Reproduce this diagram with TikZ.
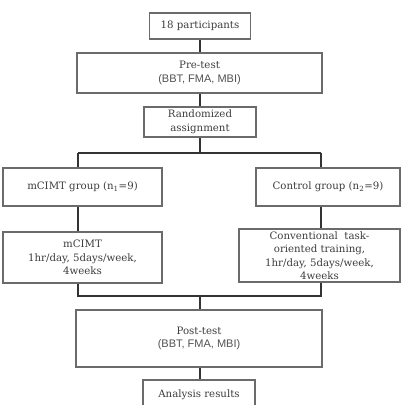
\documentclass[tikz,border=0pt]{standalone}
\usepackage{fontspec}
\setmainfont{DejaVu Serif}
\newfontfamily\lbsans{Liberation Sans}
\begin{document}
\begin{tikzpicture}[x=1pt,y=-1pt,
  box/.style={draw=black!58, line width=1.1pt, fill=white, inner sep=0pt, align=center,
    text=black!76, font=\fontsize{10.2}{13.5}\selectfont},
  conn/.style={draw=black!80, line width=1.8pt}]
\newcommand{\sanstxt}[1]{{\lbsans\fontsize{11}{14}\selectfont\color{black!68}#1}}
\useasboundingbox (0,0) rectangle (402,405);
\begin{scope}
\clip (0,0) rectangle (402,405);
\coordinate (jc) at (200,153);
\coordinate (jl) at (78,153);
\coordinate (jr) at (321,153);
\coordinate (kc) at (200,296);
\coordinate (kl) at (78,296);
\coordinate (kr) at (321,296);

\node[box, minimum width=101pt, minimum height=26pt] (b1) at (200,26) {18 participants};
\node[box, minimum width=245pt, minimum height=40pt] (b2) at (199.5,73) {Pre-test\\\sanstxt{(BBT, FMA, MBI)}};
\node[box, minimum width=112pt, minimum height=30pt] (b3) at (200,122) {Randomized\\assignment};
\node[box, minimum width=159pt, minimum height=38pt] (g1) at (82.5,187) {mCIMT group (n\textsubscript{1}=9)};
\node[box, minimum width=144pt, minimum height=38pt] (g2) at (328,187) {Control group (n\textsubscript{2}=9)};
\node[box, minimum width=159pt, minimum height=51pt] (t1) at (82.5,257.5) {mCIMT\\1hr/day, 5days/week,\\4weeks};
\node[box, minimum width=161pt, minimum height=53pt] (t2) at (319.5,255.5) {Conventional\ \ task-\\oriented training,\\1hr/day, 5days/week,\\4weeks};
\node[box, minimum width=246pt, minimum height=57pt] (post) at (199,338.5) {Post-test\\\sanstxt{(BBT, FMA, MBI)}};
\node[box, minimum width=112pt, minimum height=40pt] (ana) at (199,400) {};
\node[text=black!76, font=\fontsize{10.2}{13.5}\selectfont] (anat) at (199,395) {Analysis results};

\draw[conn] (b1.south) -- (b1.south |- b2.north);
\draw[conn] (b2.south -| b3) -- (b3.north);
\draw[conn] (b3.south) -- (jc);
\draw[conn] (jl) -- (jr);
\draw[conn] (jl) -- (jl |- g1.north);
\draw[conn] (jr) -- (jr |- g2.north);
\draw[conn] (jl |- g1.south) -- (jl |- t1.north);
\draw[conn] (jr |- g2.south) -- (jr |- t2.north);
\draw[conn] (jl |- t1.south) -- (kl) -- (kr) -- (kr |- t2.south);
\draw[conn] (kc) -- (kc |- post.north);
\draw[conn] (kc |- post.south) -- (kc |- ana.north);
\end{scope}
\end{tikzpicture}
\end{document}
